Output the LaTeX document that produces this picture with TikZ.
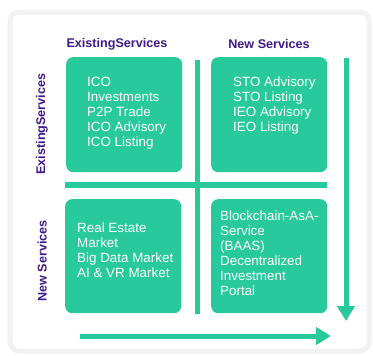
\documentclass[tikz,border=0pt]{standalone}
\usepackage{fontspec}
\setmainfont{Liberation Sans}
\usetikzlibrary{arrows.meta}
\definecolor{mint}{RGB}{40,201,154}
\definecolor{grape}{RGB}{62,26,138}
\tikzset{
  quad/.style={fill=mint,rounded corners=7pt,minimum width=116pt,minimum height=115pt,inner sep=0pt},
  items/.style={anchor=north west,inner sep=0pt,align=left,text=white,font=\fontsize{13.4}{15}\selectfont},
  head/.style={text=grape,inner sep=0pt,font=\bfseries\fontsize{12.6}{14}\selectfont},
  bar/.style={mint,line width=5pt},
  axis/.style={mint,line width=5pt,-{Triangle[length=15pt,width=17pt]}}
}
\begin{document}
\begin{tikzpicture}[x=1pt,y=-1pt]
\useasboundingbox (0,0) rectangle (373,356);
% card
\draw[black!5,line width=5pt,fill=white,rounded corners=9pt] (10,12) rectangle (369,351);
% column and row heads
\node[head] (colold) at (117,44) {ExistingServices};
\node[head] (colnew) at (269,44) {New Services};
\node[head,rotate=90] (rowold) at (42,124) {ExistingServices};
\node[head,rotate=90] (rownew) at (42,261) {New Services};
% dividers
\coordinate (vtop) at (197,60);
\coordinate (vbot) at (197,314);
\coordinate (hleft) at (65,184.5);
\coordinate (hright) at (327,184.5);
\draw[bar] (vtop) -- (vbot);
\draw[bar,line width=6pt] (hleft) -- (hright);
% the four quadrants
\node[quad,anchor=north west] (q1) at (66,57) {};
\node[quad,anchor=north west] (q2) at (211,57) {};
\node[quad,anchor=north west,minimum height=114pt] (q3) at (65,199) {};
\node[quad,anchor=north west,minimum height=114pt] (q4) at (211,199) {};
\node[items] (t1) at (87,77) {ICO\\Investments\\P2P Trade\\ICO Advisory\\ICO Listing};
\node[items] (t2) at (233,77) {STO Advisory\\STO Listing\\IEO Advisory\\IEO Listing};
\node[items] (t3) at (77,223) {Real Estate\\Market\\Big Data Market\\AI \& VR Market};
\node[items] (t4) at (220,211) {Blockchain-AsA-\\Service\\(BAAS)\\Decentralized\\Investment\\Portal};
% axes
\coordinate (dtop) at (346,58);
\coordinate (dbot) at (346,321);
\coordinate (rleft) at (80,336);
\coordinate (rright) at (331,336);
\draw[axis] (dtop) -- (dbot);
\draw[axis] (rleft) -- (rright);
\end{tikzpicture}
\end{document}
